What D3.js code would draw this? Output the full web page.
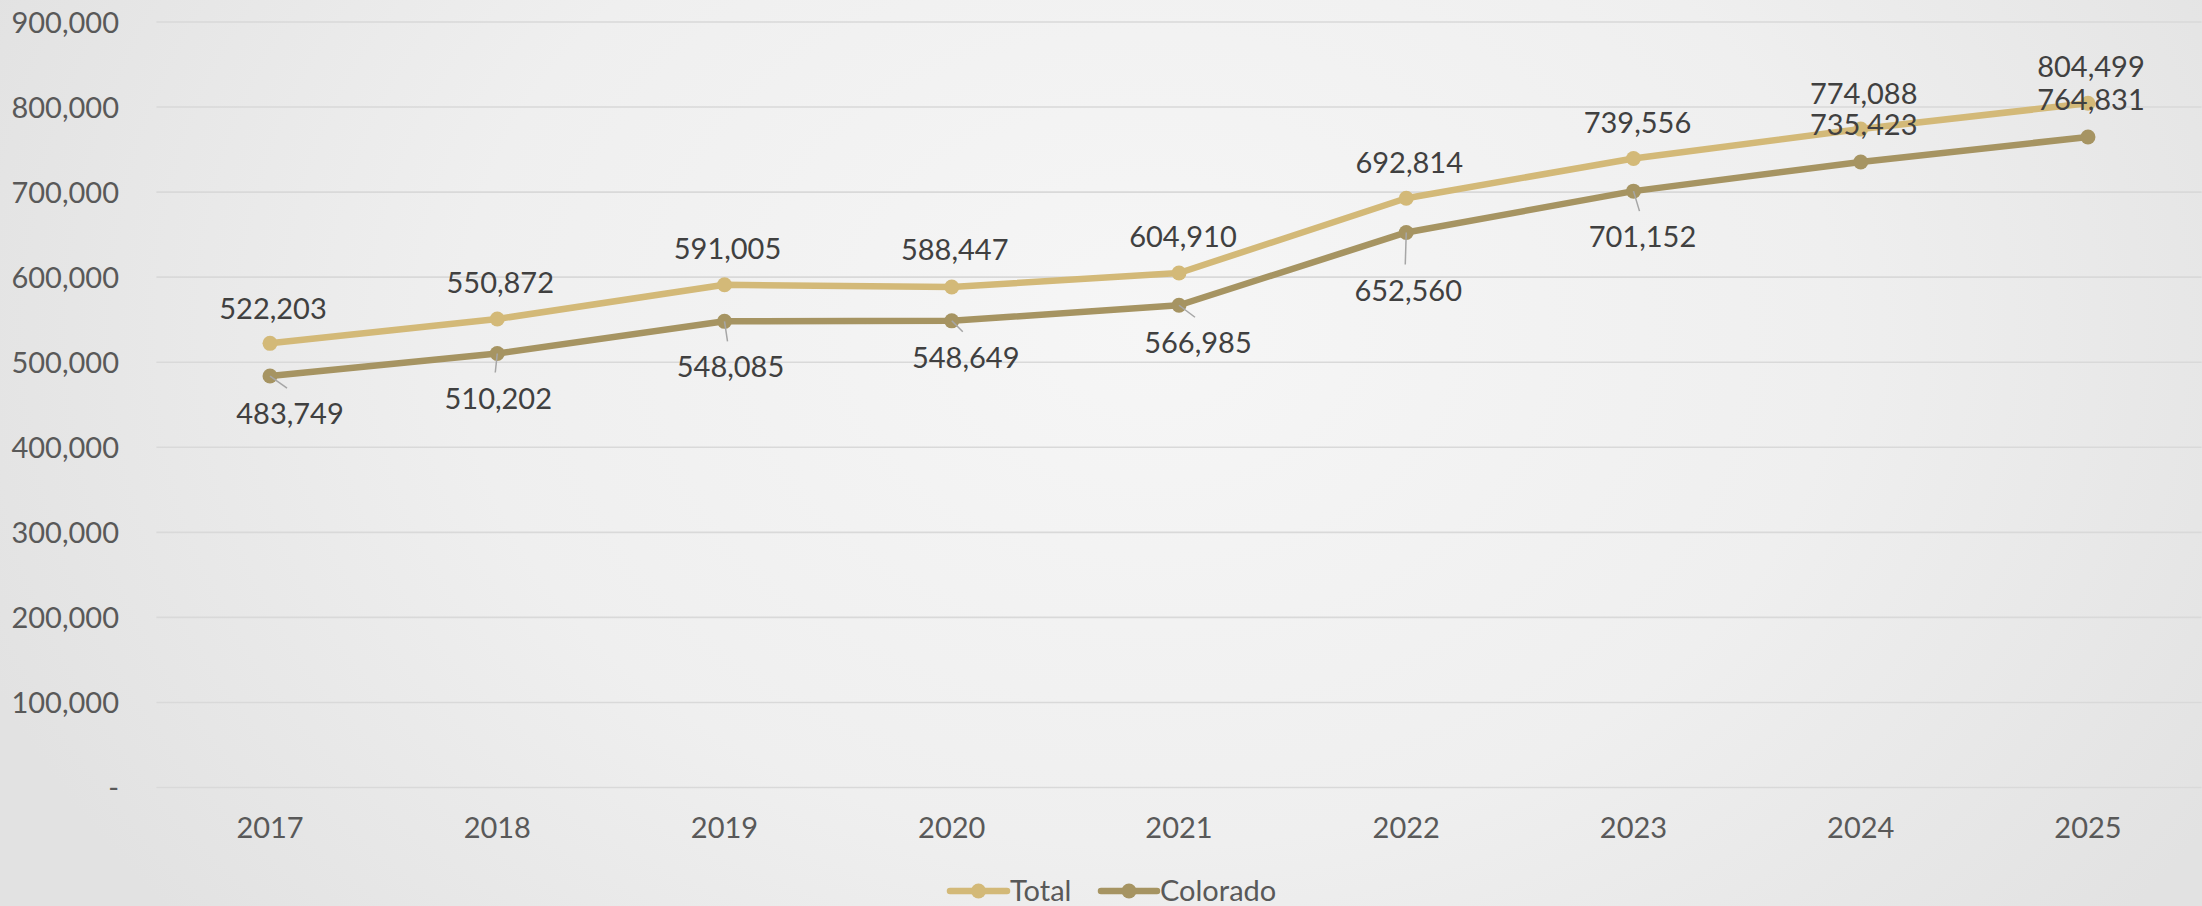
<!DOCTYPE html>
<html>
<head>
<meta charset="utf-8">
<script src="https://cdn.jsdelivr.net/npm/d3@7/dist/d3.min.js"></script>
<style>
  html, body { margin: 0; padding: 0; background: #ebebeb; }
  svg { display: block; }
  text { font-family: Lato, "Open Sans", sans-serif; }
</style>
</head>
<body>
<svg id="chart" width="2202" height="906"></svg>
<script>
// Yearly values for each series
const years = ["2017", "2018", "2019", "2020", "2021", "2022", "2023", "2024", "2025"];
const totalValues = [522203, 550872, 591005, 588447, 604910, 692814, 739556, 774088, 804499];
const coloradoValues = [483749, 510202, 548085, 548649, 566985, 652560, 701152, 735423, 764831];
const yTickValues = [0, 100000, 200000, 300000, 400000, 500000, 600000, 700000, 800000, 900000];
const seriesNames = ["Total", "Colorado"];

// Label placement relative to each point (layout only)
const totalLabelShift = [[3, -34], [3, -36], [3, -36], [3, -37], [4, -36], [3, -35], [4, -36], [3, -35], [3, -36]];
const coloradoLabelShift = [[20, 38], [1, 45], [6, 46], [14, 37], [19, 38], [2, 58], [9, 46], [3, -37], [3, -37]];

const W = 2202, H = 906;
const FONT = 29;
const colors = { Total: "#d3b978", Colorado: "#a69462" };
const svg = d3.select("#chart");

// Soft radial background
const defs = svg.append("defs");
const grad = defs.append("radialGradient")
  .attr("id", "bg")
  .attr("gradientUnits", "userSpaceOnUse")
  .attr("cx", 1150).attr("cy", 330).attr("r", 1250)
  .attr("gradientTransform", "translate(1150,330) scale(1,0.75) translate(-1150,-330)");
grad.append("stop").attr("offset", "0%").attr("stop-color", "#f6f6f6");
grad.append("stop").attr("offset", "55%").attr("stop-color", "#efefef");
grad.append("stop").attr("offset", "100%").attr("stop-color", "#e2e2e2");
svg.append("rect").attr("width", W).attr("height", H).attr("fill", "url(#bg)");

const plot = { left: 156.4, right: 2201.6, top: 22, bottom: 787.5 };

const x = d3.scaleBand().domain(years).range([plot.left, plot.right]).padding(0);
const y = d3.scaleLinear().domain([0, 900000]).range([plot.bottom, plot.top]);
const cx = d => x(d) + x.bandwidth() / 2;

// Gridlines
svg.append("g").selectAll("line")
  .data(yTickValues)
  .join("line")
  .attr("x1", plot.left).attr("x2", plot.right)
  .attr("y1", d => y(d)).attr("y2", d => y(d))
  .attr("stroke", "#d9d9d9").attr("stroke-width", 1.6);

// Y axis labels
const fmt = d3.format(",");
const yAxis = d3.axisLeft(y).tickValues(yTickValues)
  .tickFormat(d => d === 0 ? "-" : fmt(d)).tickSize(0).tickPadding(0);
const yg = svg.append("g").attr("transform", "translate(119,0)").call(yAxis);
yg.select(".domain").remove();
yg.selectAll("text")
  .attr("fill", "#595959").attr("font-size", FONT).attr("dy", "0.35em")
  .style("font-family", "Lato, 'Open Sans', sans-serif");

// X axis labels
const xAxis = d3.axisBottom(x).tickSize(0).tickPadding(0);
const xg = svg.append("g").attr("transform", "translate(0,828)").call(xAxis);
xg.select(".domain").remove();
xg.selectAll("text")
  .attr("fill", "#595959").attr("font-size", FONT).attr("dy", "0.35em").attr("y", 0)
  .style("font-family", "Lato, 'Open Sans', sans-serif");

// Series
const series = [
  { name: "Total", values: totalValues, shift: totalLabelShift },
  { name: "Colorado", values: coloradoValues, shift: coloradoLabelShift }
];
const line = d3.line().x((d, i) => cx(years[i])).y(d => y(d));

series.forEach(s => {
  svg.append("path")
    .datum(s.values)
    .attr("d", line)
    .attr("fill", "none")
    .attr("stroke", colors[s.name])
    .attr("stroke-width", 6.5)
    .attr("stroke-linejoin", "round")
    .attr("stroke-linecap", "round");
});

series.forEach(s => {
  svg.append("g").selectAll("circle")
    .data(s.values)
    .join("circle")
    .attr("cx", (d, i) => cx(years[i]))
    .attr("cy", d => y(d))
    .attr("r", 7.5)
    .attr("fill", colors[s.name]);
});

// Leader lines for labels placed below their points
const coloradoLeaders = coloradoValues.map((v, i) => ({ v, i, s: coloradoLabelShift[i] }))
  .filter(d => d.s[1] > 0);
svg.append("g").selectAll("line")
  .data(coloradoLeaders)
  .join("line")
  .attr("x1", d => cx(years[d.i]))
  .attr("y1", d => y(d.v))
  .attr("x2", d => cx(years[d.i]) + d.s[0] - 3)
  .attr("y2", d => y(d.v) + d.s[1] - 26)
  .attr("stroke", "#a6a6a6").attr("stroke-width", 1.5);

// Data labels
series.forEach(s => {
  svg.append("g").selectAll("text")
    .data(s.values)
    .join("text")
    .attr("x", (d, i) => cx(years[i]) + s.shift[i][0])
    .attr("y", (d, i) => y(d) + s.shift[i][1])
    .attr("dy", "0.35em")
    .attr("text-anchor", "middle")
    .attr("font-size", FONT)
    .attr("fill", "#404040")
    .text(d => fmt(d));
});

// Legend
const legendItems = [
  { name: seriesNames[0], x0: 950, x1: 1007, tx: 1010 },
  { name: seriesNames[1], x0: 1101, x1: 1157, tx: 1160 }
];
const lg = svg.append("g");
legendItems.forEach(it => {
  lg.append("line")
    .attr("x1", it.x0).attr("x2", it.x1).attr("y1", 891).attr("y2", 891)
    .attr("stroke", colors[it.name]).attr("stroke-width", 6.5).attr("stroke-linecap", "round");
  lg.append("circle")
    .attr("cx", (it.x0 + it.x1) / 2).attr("cy", 891).attr("r", 7.5)
    .attr("fill", colors[it.name]);
  lg.append("text")
    .attr("x", it.tx).attr("y", 891).attr("dy", "0.35em")
    .attr("font-size", FONT).attr("fill", "#595959")
    .text(it.name);
});
</script>
</body>
</html>
